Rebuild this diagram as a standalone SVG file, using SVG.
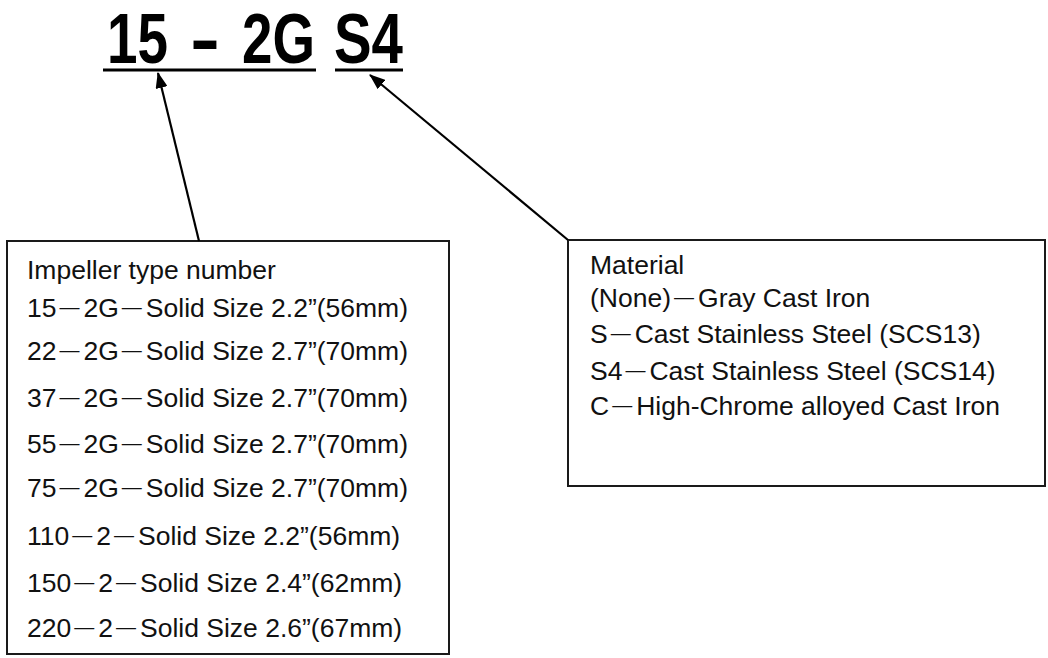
<svg xmlns="http://www.w3.org/2000/svg" width="1048" height="658" viewBox="0 0 1048 658">
<defs>
<style>
.title{font-family:"Liberation Sans",Arial,sans-serif;font-weight:bold;font-size:70px;fill:#000}
.t{font-family:"Liberation Sans",Arial,"Noto Sans CJK JP",sans-serif;font-size:26.5px;fill:#111}
.d{font-size:20px}
.box{fill:#fff;stroke:#1a1a1a;stroke-width:2}
.ul{stroke:#000;stroke-width:3}
.conn{stroke:#000;stroke-width:2.2;fill:none}
</style>
<marker id="ah" markerWidth="16" markerHeight="12" refX="15" refY="6" orient="auto" markerUnits="userSpaceOnUse">
<path d="M0,0 L16,6 L0,12 Z" fill="#000"/>
</marker>
</defs>
<rect width="1048" height="658" fill="#fff"/>
<g id="code">
<text class="title" x="107" y="63" textLength="61" lengthAdjust="spacingAndGlyphs">15</text>
<text class="title" x="190" y="63" textLength="30" lengthAdjust="spacingAndGlyphs">-</text>
<text class="title" x="242" y="63" textLength="73" lengthAdjust="spacingAndGlyphs">2G</text>
<text class="title" x="334" y="63" textLength="69" lengthAdjust="spacingAndGlyphs">S4</text>
<line class="ul" x1="103" y1="70" x2="316" y2="70"/>
<line class="ul" x1="335" y1="70" x2="403" y2="70"/>
</g>
<g id="impeller">
<rect class="box" x="7" y="241" width="442" height="413"/>
<text class="t" x="27" y="279">Impeller type number</text>
<text class="t" x="27" y="317">15<tspan class="d" dx="3" dy="-3">―</tspan><tspan dx="4" dy="3">2G</tspan><tspan class="d" dx="3" dy="-3">―</tspan><tspan dx="4" dy="3">Solid Size 2.2”(56mm)</tspan></text>
<text class="t" x="27" y="360">22<tspan class="d" dx="3" dy="-3">―</tspan><tspan dx="4" dy="3">2G</tspan><tspan class="d" dx="3" dy="-3">―</tspan><tspan dx="4" dy="3">Solid Size 2.7”(70mm)</tspan></text>
<text class="t" x="27" y="407">37<tspan class="d" dx="3" dy="-3">―</tspan><tspan dx="4" dy="3">2G</tspan><tspan class="d" dx="3" dy="-3">―</tspan><tspan dx="4" dy="3">Solid Size 2.7”(70mm)</tspan></text>
<text class="t" x="27" y="453">55<tspan class="d" dx="3" dy="-3">―</tspan><tspan dx="4" dy="3">2G</tspan><tspan class="d" dx="3" dy="-3">―</tspan><tspan dx="4" dy="3">Solid Size 2.7”(70mm)</tspan></text>
<text class="t" x="27" y="497">75<tspan class="d" dx="3" dy="-3">―</tspan><tspan dx="4" dy="3">2G</tspan><tspan class="d" dx="3" dy="-3">―</tspan><tspan dx="4" dy="3">Solid Size 2.7”(70mm)</tspan></text>
<text class="t" x="27" y="545">110<tspan class="d" dx="3" dy="-3">―</tspan><tspan dx="4" dy="3">2</tspan><tspan class="d" dx="3" dy="-3">―</tspan><tspan dx="4" dy="3">Solid Size 2.2”(56mm)</tspan></text>
<text class="t" x="27" y="592">150<tspan class="d" dx="3" dy="-3">―</tspan><tspan dx="4" dy="3">2</tspan><tspan class="d" dx="3" dy="-3">―</tspan><tspan dx="4" dy="3">Solid Size 2.4”(62mm)</tspan></text>
<text class="t" x="27" y="637">220<tspan class="d" dx="3" dy="-3">―</tspan><tspan dx="4" dy="3">2</tspan><tspan class="d" dx="3" dy="-3">―</tspan><tspan dx="4" dy="3">Solid Size 2.6”(67mm)</tspan></text>
</g>
<g id="material">
<rect class="box" x="568" y="240" width="477" height="246"/>
<text class="t" x="590" y="274">Material</text>
<text class="t" x="590" y="307">(None)<tspan class="d" dx="3" dy="-3">―</tspan><tspan dx="4" dy="3">Gray Cast Iron</tspan></text>
<text class="t" x="590" y="343">S<tspan class="d" dx="3" dy="-3">―</tspan><tspan dx="4" dy="3">Cast Stainless Steel (SCS13)</tspan></text>
<text class="t" x="590" y="380">S4<tspan class="d" dx="3" dy="-3">―</tspan><tspan dx="4" dy="3">Cast Stainless Steel (SCS14)</tspan></text>
<text class="t" x="590" y="415">C<tspan class="d" dx="3" dy="-3">―</tspan><tspan dx="4" dy="3">High-Chrome alloyed Cast Iron</tspan></text>
</g>
<g id="connectors">
<line class="conn" x1="199" y1="241" x2="158" y2="73" marker-end="url(#ah)"/>
<line class="conn" x1="568" y1="240" x2="370" y2="75" marker-end="url(#ah)"/>
</g>
</svg>
